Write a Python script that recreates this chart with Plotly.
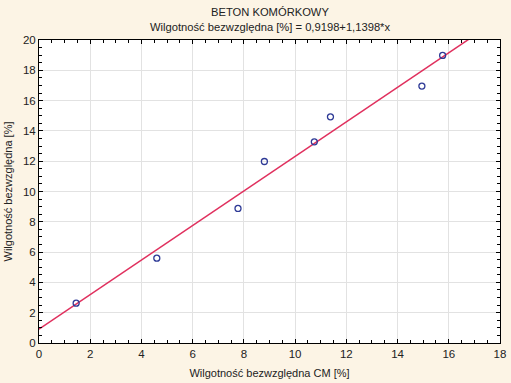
import plotly.graph_objects as go

# Data
x_cm = [1.45, 4.6, 7.77, 8.8, 10.75, 11.38, 14.95, 15.76]
y_abs = [2.63, 5.6, 8.88, 11.98, 13.28, 14.93, 16.96, 18.98]
intercept = 0.9198
slope = 1.1398
line_x = [0, 18]
line_y = [intercept + slope * v for v in line_x]

title1 = "BETON KOMÓRKOWY"
title2 = "Wilgotność bezwzględna [%] = 0,9198+1,1398*x"
x_title = "Wilgotność bezwzględna CM [%]"
y_title = "Wilgotność bezwzględna [%]"

bg = "#FCF4E5"
font = "Liberation Sans, Arial, sans-serif"

fig = go.Figure()
fig.add_trace(go.Scatter(x=line_x, y=line_y, mode="lines",
                         line=dict(color="#E0305E", width=1.5), showlegend=False))
fig.add_trace(go.Scatter(x=x_cm, y=y_abs, mode="markers",
                         marker=dict(symbol="circle-open", size=6, color="#2E3A96",
                                     line=dict(width=1.3)), showlegend=False,
                         cliponaxis=False))

axis_common = dict(
    showline=True, linecolor="black", linewidth=1, mirror="ticks",
    ticks="inside", ticklen=4, tickcolor="black",
    showgrid=True, gridcolor="#E2E2E2", gridwidth=1, zeroline=False,
    tickfont=dict(family=font, size=11.5, color="#222222"),
    minor=dict(ticks="inside", ticklen=3, tickcolor="black", showgrid=False),
    automargin=False, ticklabeloverflow="allow",
)

fig.update_xaxes(range=[0, 18], dtick=2, title=dict(text=x_title, standoff=10,
                 font=dict(family=font, size=11, color="#222222")),
                 **axis_common)
fig.update_yaxes(range=[0, 20], dtick=2, title=dict(text=y_title, standoff=8,
                 font=dict(family=font, size=11, color="#222222")),
                 **axis_common)

fig.update_layout(
    width=511, height=383,
    margin=dict(l=39, r=11, t=40, b=40),
    paper_bgcolor=bg, plot_bgcolor="white",
    font=dict(family=font, size=11, color="#222222"),
    annotations=[
        dict(text=title1, x=0.5, y=1, xref="paper", yref="paper",
             xanchor="center", yanchor="middle", yshift=28, showarrow=False,
             font=dict(family=font, size=11.2, color="#222222")),
        dict(text=title2, x=0.5, y=1, xref="paper", yref="paper",
             xanchor="center", yanchor="middle", yshift=13, showarrow=False,
             font=dict(family=font, size=11.2, color="#222222")),
    ],
)

fig.write_html(
    "out.html",
    config={"displayModeBar": False},
    post_script="document.body.style.margin='0';document.body.style.background='%s';" % bg,
)
